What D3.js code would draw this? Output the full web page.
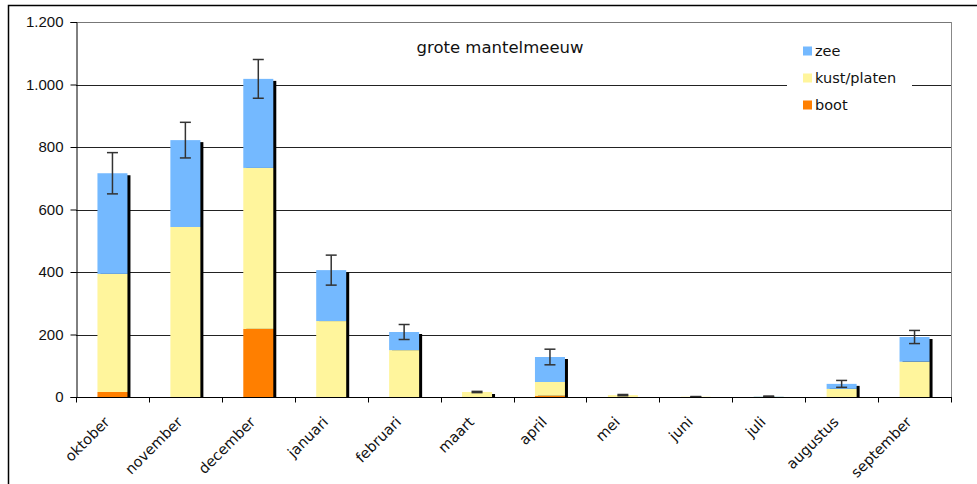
<!DOCTYPE html>
<html>
<head>
<meta charset="utf-8">
<script src="https://cdn.jsdelivr.net/npm/d3@7"></script>
<style>
  body { margin: 0; background: #fff; }
  svg { display: block; font-family: "DejaVu Sans", sans-serif; }
</style>
</head>
<body>
<div id="chart"></div>
<script>
// --- Data ---
const months = ["oktober", "november", "december", "januari", "februari", "maart",
                "april", "mei", "juni", "juli", "augustus", "september"];
const boot = [16, 0, 218, 0, 0, 0, 4, 0, 0, 0, 0, 0];
const kust = [378, 544, 515, 243, 150, 16, 44, 6, 1, 1, 26, 113];
const zee  = [322, 278, 285, 163, 58, 0, 80, 0, 0, 1, 16, 79];
const errs = [66, 57, 62, 48, 24, 2, 25, 2, 0.5, 1, 11, 21];
const yTicks = [0, 200, 400, 600, 800, 1000, 1200];

const seriesNames = ["boot", "kust/platen", "zee"];
const seriesColors = ["#ff7f00", "#fff59c", "#74b9ff"];

// --- Dimensions ---
const W = 977, H = 484;
const plot = { left: 76, right: 951, top: 22, bottom: 397 };

const svg = d3.select("#chart").append("svg")
  .attr("width", W)
  .attr("height", H);

// outer frame
svg.append("rect")
  .attr("x", 8.5).attr("y", 5.5)
  .attr("width", W + 10).attr("height", H + 10)
  .attr("fill", "none").attr("stroke", "#000").attr("stroke-width", 1.5);

// --- Scales ---
const x = d3.scaleBand()
  .domain(months)
  .range([plot.left, plot.right])
  .padding(0);

const y = d3.scaleLinear()
  .domain([0, 1200])
  .range([plot.bottom, plot.top]);

const barW = 30;
const fmt = d3.formatLocale({ decimal: ",", thousands: ".", grouping: [3], currency: ["", ""] }).format(",d");

// --- Gridlines ---
svg.append("g")
  .selectAll("line")
  .data(yTicks.filter(d => d > 0))
  .enter()
  .append("line")
  .attr("x1", plot.left).attr("x2", plot.right)
  .attr("y1", d => Math.round(y(d)) + 0.5).attr("y2", d => Math.round(y(d)) + 0.5)
  .attr("stroke", d => d === 1200 ? "#777" : "#222")
  .attr("stroke-width", 1);

// right border of plot area
svg.append("line")
  .attr("x1", plot.right + 0.5).attr("x2", plot.right + 0.5)
  .attr("y1", plot.top).attr("y2", plot.bottom)
  .attr("stroke", "#888");

// --- Stacked data ---
const rows = months.map((m, i) => ({ month: m, boot: boot[i], kust: kust[i], zee: zee[i], err: errs[i] }));
const stack = d3.stack().keys(["boot", "kust", "zee"])(rows);

// shadow behind each bar
svg.append("g")
  .selectAll("rect")
  .data(rows)
  .enter()
  .append("rect")
  .attr("x", d => x(d.month) + (x.bandwidth() - barW) / 2 + 3)
  .attr("y", d => y(d.boot + d.kust + d.zee) + 2)
  .attr("width", barW)
  .attr("height", d => Math.max(0, plot.bottom - y(d.boot + d.kust + d.zee) - 2))
  .attr("fill", "#000");

// bars
svg.append("g")
  .selectAll("g")
  .data(stack)
  .enter()
  .append("g")
  .attr("fill", (d, i) => seriesColors[i])
  .selectAll("rect")
  .data(d => d)
  .enter()
  .append("rect")
  .attr("x", d => x(d.data.month) + (x.bandwidth() - barW) / 2)
  .attr("y", d => y(d[1]))
  .attr("width", barW)
  .attr("height", d => y(d[0]) - y(d[1]));

// --- Error bars ---
const eb = svg.append("g")
  .attr("stroke", "#333")
  .attr("stroke-width", 1.5);

rows.forEach(d => {
  const cx = x(d.month) + x.bandwidth() / 2;
  const tot = d.boot + d.kust + d.zee;
  eb.append("line")
    .attr("x1", cx).attr("x2", cx)
    .attr("y1", y(tot + d.err)).attr("y2", y(tot - d.err));
  [tot + d.err, tot - d.err].forEach(v => {
    eb.append("line")
      .attr("x1", cx - 5.5).attr("x2", cx + 5.5)
      .attr("y1", y(v)).attr("y2", y(v));
  });
});

// --- Axes ---
const yAxis = svg.append("g")
  .attr("transform", `translate(${plot.left + 0.5},0)`)
  .call(d3.axisLeft(y).tickValues(yTicks).tickSize(6).tickPadding(7).tickFormat(fmt));
yAxis.select(".domain").attr("stroke", "#000");
yAxis.selectAll(".tick line").attr("stroke", "#000");
yAxis.selectAll("text").style("font-size", "15px").attr("fill", "#111");

const xAxis = svg.append("g")
  .attr("transform", `translate(0,${plot.bottom + 0.5})`);
xAxis.append("line")
  .attr("x1", plot.left).attr("x2", plot.right + 1)
  .attr("stroke", "#000");
xAxis.selectAll(".tk")
  .data(d3.range(months.length + 1))
  .enter()
  .append("line")
  .attr("class", "tk")
  .attr("x1", i => Math.round(plot.left + i * x.step()) + 0.5)
  .attr("x2", i => Math.round(plot.left + i * x.step()) + 0.5)
  .attr("y1", 0).attr("y2", 5)
  .attr("stroke", "#000");

svg.append("g")
  .selectAll("text")
  .data(months)
  .enter()
  .append("text")
  .attr("transform", d => `translate(${x(d) + x.bandwidth() / 2 - 2},${423}) rotate(-45)`)
  .attr("text-anchor", "end")
  .style("font-size", "14.5px")
  .attr("fill", "#111")
  .text(d => d);

// --- Title ---
svg.append("text")
  .attr("x", 500)
  .attr("y", 53)
  .attr("text-anchor", "middle")
  .style("font-size", "16.5px")
  .attr("fill", "#111")
  .text("grote mantelmeeuw");

// --- Legend ---
svg.append("rect")
  .attr("x", 787).attr("y", 34)
  .attr("width", 125).attr("height", 88)
  .attr("fill", "#fff");

const legendOrder = [2, 1, 0];
const legend = svg.selectAll(".legend")
  .data(legendOrder)
  .enter()
  .append("g")
  .attr("class", "legend")
  .attr("transform", (d, i) => `translate(803, ${51 + i * 27})`);

legend.append("rect")
  .attr("x", 0).attr("y", -4.5)
  .attr("width", 9).attr("height", 9)
  .attr("fill", d => seriesColors[d]);

legend.append("text")
  .attr("x", 12)
  .attr("y", 5)
  .style("font-size", "14.5px")
  .attr("fill", "#111")
  .text(d => seriesNames[d]);
</script>
</body>
</html>
